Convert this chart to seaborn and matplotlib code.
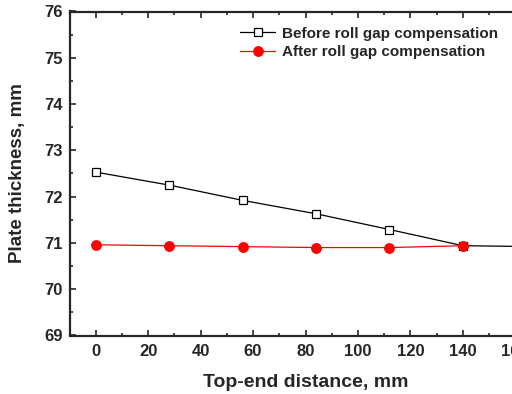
import numpy as np
import pandas as pd
import matplotlib
matplotlib.use("Agg")
import matplotlib.pyplot as plt
import seaborn as sns

# data
distance = [0, 28, 56, 84, 112, 140, 168]
before = [72.53, 72.25, 71.92, 71.63, 71.29, 70.94, 70.92]
after_dist = [0, 28, 56, 84, 112, 140]
after = [70.96, 70.94, 70.92, 70.90, 70.90, 70.94]

df_before = pd.DataFrame({'dist': distance, 'thick': before})
df_after = pd.DataFrame({'dist': after_dist, 'thick': after})

sns.set_style('ticks')
plt.rcParams['font.family'] = ['Liberation Sans', 'DejaVu Sans']
plt.rcParams['font.weight'] = 'bold'

fig = plt.figure(figsize=(5.12, 3.94), dpi=100)
ax = fig.add_axes([69.5 / 512, 1 - 335.5 / 394, (541.5 - 69.5) / 512, (335.5 - 11.5) / 394])

sns.lineplot(data=df_before, x='dist', y='thick', ax=ax, color='black', lw=0.9,
             marker='s', markersize=5.6, markerfacecolor='white', markeredgecolor='black',
             markeredgewidth=0.9, markevery=[0, 1, 2, 3, 4, 5],
             label='Before roll gap compensation')
sns.lineplot(data=df_after, x='dist', y='thick', ax=ax, color='red', lw=0.9,
             marker='o', markersize=7, markerfacecolor='red', markeredgecolor='red',
             label='After roll gap compensation')

ax.set_xlim(-10, 170)
ax.set_ylim(69, 76)
ax.set_xticks(np.arange(0, 180, 20))
ax.set_xticks(np.arange(-10, 171, 10), minor=True)
ax.set_yticks(np.arange(69, 77, 1))
ax.set_yticks(np.arange(69, 76.1, 0.5), minor=True)
ax.tick_params(which='both', direction='in', top=True, right=True, width=1.2)
ax.tick_params(which='major', length=4, labelsize=12)
ax.tick_params(axis='y', which='major', pad=5)
ax.tick_params(axis='x', which='major', pad=6)
ax.tick_params(which='minor', length=2.5)
for lbl in ax.get_xticklabels() + ax.get_yticklabels():
    lbl.set_fontweight('bold')
for s in ax.spines.values():
    s.set_linewidth(1.6)
    s.set_visible(True)

ax.set_xlabel('Top-end distance, mm', fontsize=14, fontweight='bold', labelpad=11)
ax.set_ylabel('Plate thickness, mm', fontsize=13.5, fontweight='bold', labelpad=13)

leg = ax.legend(loc='upper left', bbox_to_anchor=(0.349, 0.972), frameon=False,
                fontsize=11, handlelength=2.3, handletextpad=0.4, labelspacing=0.3,
                borderaxespad=0)
for t in leg.get_texts():
    t.set_fontweight('bold')

fig.savefig('out.png', dpi=100)
